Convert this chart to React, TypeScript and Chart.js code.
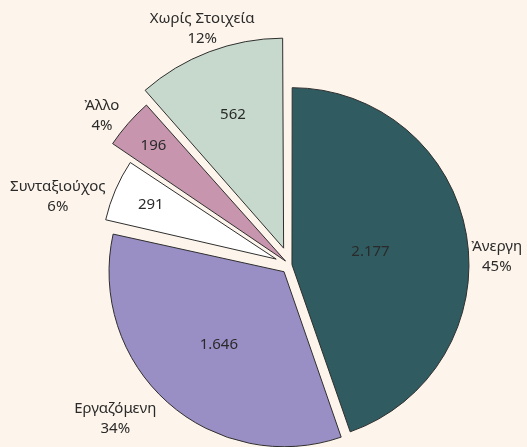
import React, { useEffect, useRef } from 'react';
import { Chart, registerables } from 'chart.js';

Chart.register(...registerables);

// ---- data ----
const categories = ['Α\u0313νεργη', 'Εργαζόμενη', 'Συνταξιούχος', 'Α\u0313λλο', 'Χωρίς Στοιχεία'];
const values = [2177, 1646, 291, 196, 562];

// ---- styling ----
const sliceColors = ['#2F5B61', '#9A8FC5', '#FFFFFF', '#C795AE', '#C6D9CC'];
const explodeShift = [2, 9, 15, 6, 18]; // px the slice is pulled out
const sliceRadius = [177, 175, 175, 209, 210];
const innerFrac = [0.45, 0.56, 0.78, 0.84, 0.68];
const outerAngleShift = [7.4, 7.2, -7.4, -2.9, 0.4]; // degrees
const outerExtra = [28, 49, 52, 25, 24];
const BG = '#FDF5EB';
const TEXT = '#2A2A2A';
const FONT = '15px "Noto Sans", "DejaVu Sans", sans-serif';

const total = values.reduce((a, b) => a + b, 0);
const fmt = (v: number) => String(v).replace(/\B(?=(\d{3})+(?!\d))/g, '.');

const sizePlugin = {
  id: 'sliceSizes',
  afterDatasetUpdate(chart: any, args: any) {
    const meta = args.meta;
    meta.data.forEach((el: any, i: number) => {
      const fix = 1 - Math.sin(Math.min(Math.PI, el.circumference || 0));
      el.outerRadius = sliceRadius[i] - explodeShift[i] * fix;
      el.innerRadius = 0;
    });
  },
};

const labelPlugin = {
  id: 'pieLabels',
  afterDatasetsDraw(chart: any) {
    const ctx = chart.ctx;
    const meta = chart.getDatasetMeta(0);
    ctx.save();
    ctx.font = FONT;
    ctx.fillStyle = TEXT;
    ctx.textAlign = 'center';
    ctx.textBaseline = 'middle';
    meta.data.forEach((el: any, i: number) => {
      const mid = (el.startAngle + el.endAngle) / 2;
      const t = explodeShift[i];
      const ax = el.x + Math.cos(mid) * t;
      const ay = el.y + Math.sin(mid) * t;
      const R = sliceRadius[i];
      // value inside
      const ix = ax + Math.cos(mid) * R * innerFrac[i];
      const iy = ay + Math.sin(mid) * R * innerFrac[i];
      ctx.fillText(fmt(values[i]), ix, iy);
      // category + percent outside
      const a2 = mid + (outerAngleShift[i] * Math.PI) / 180;
      const d = R + outerExtra[i];
      const ox = ax + Math.cos(a2) * d;
      const oy = ay + Math.sin(a2) * d;
      const pct = Math.round((values[i] / total) * 100) + '%';
      ctx.fillText(categories[i], ox, oy - 10);
      ctx.fillText(pct, ox, oy + 10);
    });
    ctx.restore();
  },
};

export default function App() {
  const ref = useRef<HTMLCanvasElement | null>(null);
  useEffect(() => {
    if (!ref.current) return;
    const chart = new Chart(ref.current, {
      type: 'pie',
      data: {
        labels: categories,
        datasets: [
          {
            data: values,
            backgroundColor: sliceColors,
            borderColor: '#2E2E2E',
            borderWidth: 1,
            offset: explodeShift.map((s) => s * 4),
            clip: false as any,
          },
        ],
      },
      options: {
        responsive: false,
        animation: false,
        layout: { padding: { left: 53, right: 0, top: 83, bottom: 0 } },
        plugins: {
          legend: { display: false },
          tooltip: { enabled: false },
        },
      },
      plugins: [sizePlugin, labelPlugin],
    });
    return () => chart.destroy();
  }, []);
  return (
    <div style={{ position: 'fixed', left: 0, top: 0, width: 527, height: 447, background: BG }}>
      <canvas ref={ref} width={527} height={447} />
    </div>
  );
}
